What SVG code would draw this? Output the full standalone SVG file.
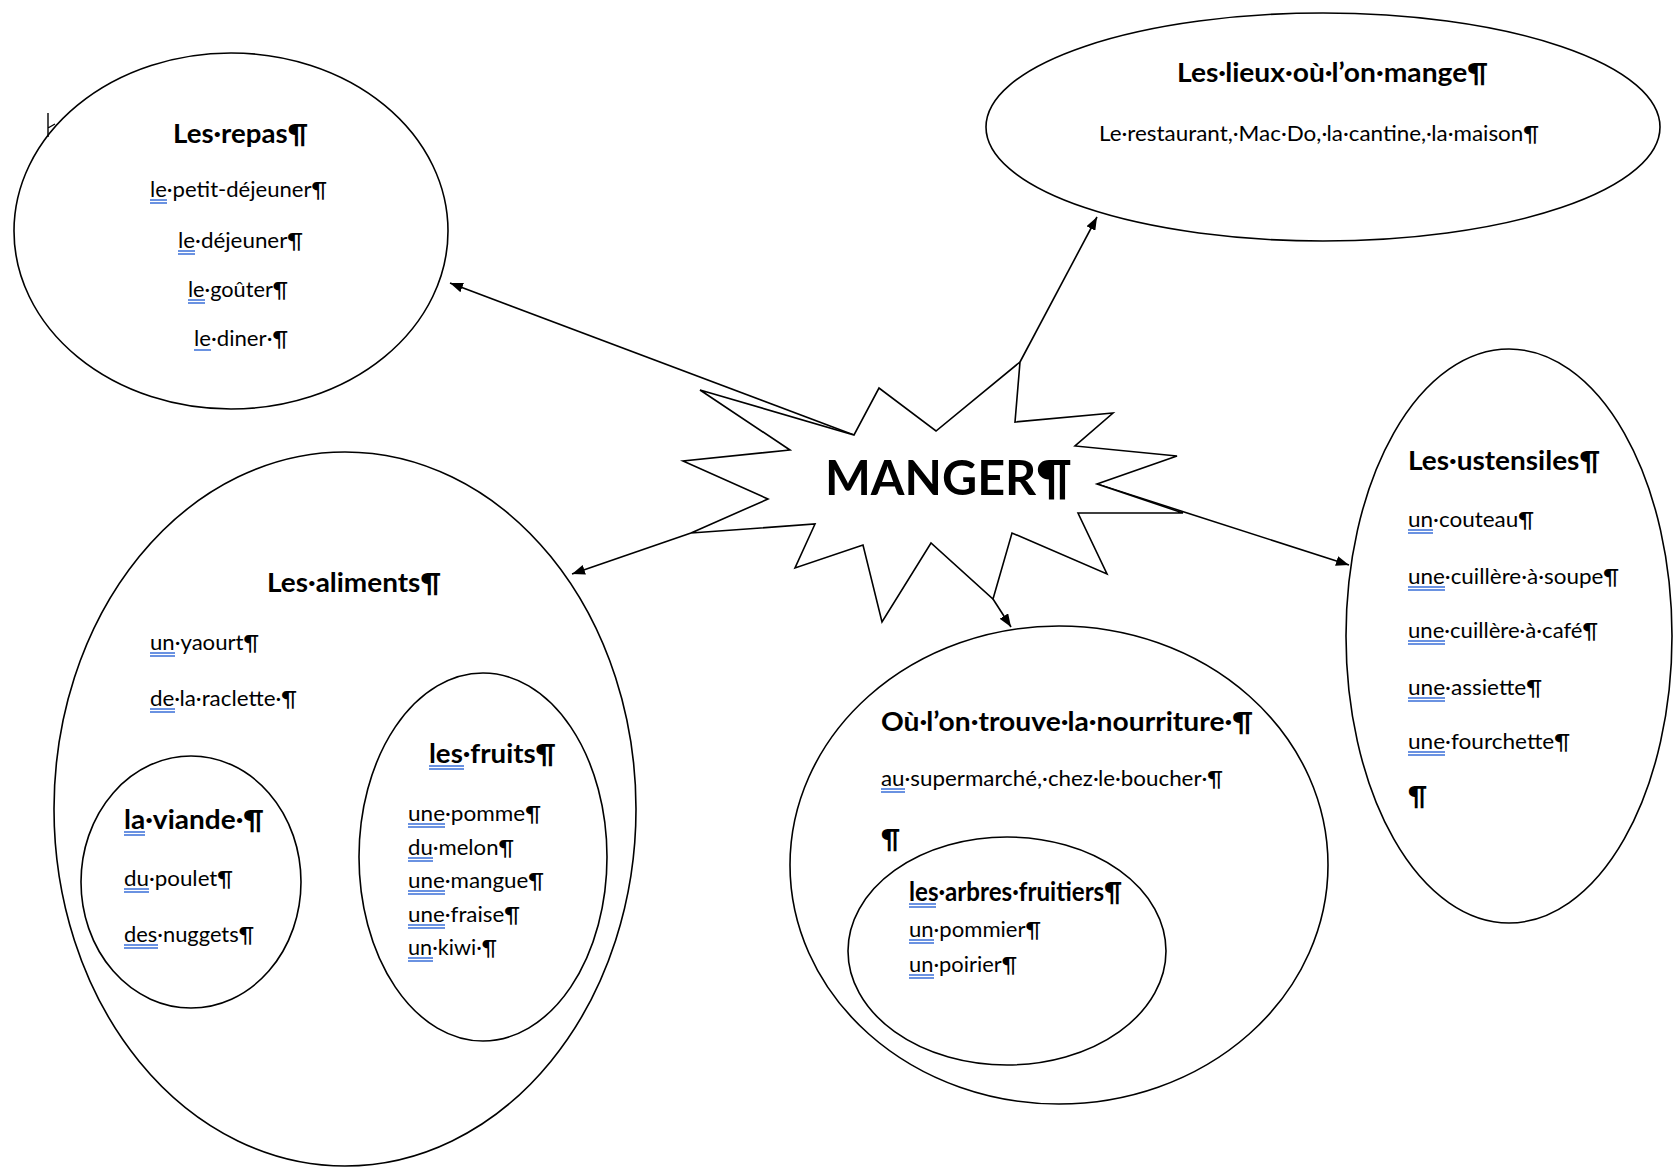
<svg xmlns="http://www.w3.org/2000/svg" width="1673" height="1169" viewBox="0 0 1673 1169">
<style>
.shape{fill:none;stroke:#000;stroke-width:1.6}
.star{fill:#fff;stroke:#000;stroke-width:1.6;stroke-linejoin:miter}
.t{font-family:Lato,"Liberation Sans",sans-serif;font-size:21px;fill:#000}
.h{font-weight:bold;font-size:26px}
.big{font-weight:bold;font-size:48px}
.ul{stroke:#3a6fd8;stroke-width:1.4}
.conn{stroke:#000;stroke-width:1.6;fill:none;marker-end:url(#arr)}
</style>
<defs>
<marker id="arr" markerUnits="userSpaceOnUse" markerWidth="13" markerHeight="10" refX="13" refY="5" orient="auto">
<path d="M0,0 L13,5 L0,10 z" fill="#000"/>
</marker>
</defs>
<rect width="1673" height="1169" fill="#fff"/>

<g id="connectors">
<line class="conn" x1="854" y1="435" x2="450" y2="283"/>
<line class="conn" x1="1020" y1="362" x2="1097" y2="217"/>
<line class="conn" x1="691" y1="533" x2="572" y2="574"/>
<line class="conn" x1="1097" y1="484" x2="1349" y2="565"/>
<line class="conn" x1="993" y1="599" x2="1011" y2="627"/>
</g>

<g id="manger">
<polygon class="star" points="1183,513 1097,484 1177,456 1075,446 1113,413 1015,422 1020,362 936,431 879,388 854,435 700,390 790,450 683,461 768,499 691,533 815,524 795,568 863,545 882,622 931,543 993,599 1012,533 1107,574 1078,513"/>
<text class="t big" x="825" y="495" textLength="247" lengthAdjust="spacingAndGlyphs">MANGER¶</text>
</g>

<g id="repas">
<ellipse class="shape" cx="231" cy="231" rx="217" ry="178"/>
<path d="M48,113 L48,137 M48,128 L55,124" stroke="#000" stroke-width="1.4" fill="none"/>
<text class="t h" x="173" y="143" textLength="135" lengthAdjust="spacingAndGlyphs">Les·repas¶</text>
<text class="t" x="150" y="197" textLength="177" lengthAdjust="spacingAndGlyphs">le·petit-déjeuner¶</text>
<text class="t" x="178" y="248" textLength="125" lengthAdjust="spacingAndGlyphs">le·déjeuner¶</text>
<text class="t" x="188" y="297" textLength="100" lengthAdjust="spacingAndGlyphs">le·goûter¶</text>
<text class="t" x="194" y="346" textLength="94" lengthAdjust="spacingAndGlyphs">le·diner·¶</text>
<path class="ul" d="M150,200h17M150,203h17M178,251h17M178,254h17M188,300h17M188,303h17M194,350h17"/>
</g>

<g id="lieux">
<ellipse class="shape" cx="1323" cy="127" rx="337" ry="114"/>
<text class="t h" x="1177" y="82" textLength="311" lengthAdjust="spacingAndGlyphs">Les·lieux·où·l’on·mange¶</text>
<text class="t" x="1099" y="141" textLength="440" lengthAdjust="spacingAndGlyphs">Le·restaurant,·Mac·Do,·la·cantine,·la·maison¶</text>
</g>

<g id="aliments">
<ellipse class="shape" cx="345" cy="809" rx="291" ry="357"/>
<text class="t h" x="267" y="592" textLength="174" lengthAdjust="spacingAndGlyphs">Les·aliments¶</text>
<text class="t" x="150" y="650" textLength="109" lengthAdjust="spacingAndGlyphs">un·yaourt¶</text>
<text class="t" x="150" y="706" textLength="147" lengthAdjust="spacingAndGlyphs">de·la·raclette·¶</text>
<path class="ul" d="M150,653h25M150,656h25M150,709h25M150,712h25"/>
</g>

<g id="viande">
<ellipse class="shape" cx="191" cy="882" rx="110" ry="126"/>
<text class="t h" x="124" y="829" textLength="140" lengthAdjust="spacingAndGlyphs">la·viande·¶</text>
<text class="t" x="124" y="886" textLength="109" lengthAdjust="spacingAndGlyphs">du·poulet¶</text>
<text class="t" x="124" y="942" textLength="130" lengthAdjust="spacingAndGlyphs">des·nuggets¶</text>
<path class="ul" d="M124,832h21M124,835h21M124,889h25M124,892h25M124,945h34M124,948h34"/>
</g>

<g id="fruits">
<ellipse class="shape" cx="483" cy="857" rx="124" ry="184"/>
<text class="t h" x="429" y="763" textLength="127" lengthAdjust="spacingAndGlyphs">les·fruits¶</text>
<text class="t" x="408" y="821" textLength="133" lengthAdjust="spacingAndGlyphs">une·pomme¶</text>
<text class="t" x="408" y="855" textLength="106" lengthAdjust="spacingAndGlyphs">du·melon¶</text>
<text class="t" x="408" y="888" textLength="136" lengthAdjust="spacingAndGlyphs">une·mangue¶</text>
<text class="t" x="408" y="922" textLength="112" lengthAdjust="spacingAndGlyphs">une·fraise¶</text>
<text class="t" x="408" y="955" textLength="89" lengthAdjust="spacingAndGlyphs">un·kiwi·¶</text>
<path class="ul" d="M429,766h35M429,769h35M408,824h37M408,827h37M408,858h25M408,861h25M408,891h37M408,894h37M408,925h37M408,928h37M408,958h25M408,961h25"/>
</g>

<g id="nourriture">
<ellipse class="shape" cx="1059" cy="865" rx="269" ry="239"/>
<text class="t h" x="881" y="731" textLength="372" lengthAdjust="spacingAndGlyphs">Où·l’on·trouve·la·nourriture·¶</text>
<text class="t" x="881" y="786" textLength="342" lengthAdjust="spacingAndGlyphs">au·supermarché,·chez·le·boucher·¶</text>
<text class="t h" x="881" y="848">¶</text>
<path class="ul" d="M881,789h24M881,792h24"/>
</g>

<g id="arbres">
<ellipse class="shape" cx="1007" cy="951" rx="159" ry="114"/>
<text class="t h" x="909" y="901" textLength="213" lengthAdjust="spacingAndGlyphs">les·arbres·fruitiers¶</text>
<text class="t" x="909" y="937" textLength="132" lengthAdjust="spacingAndGlyphs">un·pommier¶</text>
<text class="t" x="909" y="972" textLength="108" lengthAdjust="spacingAndGlyphs">un·poirier¶</text>
<path class="ul" d="M909,904h27M909,907h27M909,940h25M909,943h25M909,975h25M909,978h25"/>
</g>

<g id="ustensiles">
<ellipse class="shape" cx="1509" cy="636" rx="163" ry="287"/>
<text class="t h" x="1408" y="470" textLength="192" lengthAdjust="spacingAndGlyphs">Les·ustensiles¶</text>
<text class="t" x="1408" y="527" textLength="126" lengthAdjust="spacingAndGlyphs">un·couteau¶</text>
<text class="t" x="1408" y="584" textLength="211" lengthAdjust="spacingAndGlyphs">une·cuillère·à·soupe¶</text>
<text class="t" x="1408" y="638" textLength="190" lengthAdjust="spacingAndGlyphs">une·cuillère·à·café¶</text>
<text class="t" x="1408" y="695" textLength="134" lengthAdjust="spacingAndGlyphs">une·assiette¶</text>
<text class="t" x="1408" y="749" textLength="162" lengthAdjust="spacingAndGlyphs">une·fourchette¶</text>
<text class="t h" x="1408" y="805">¶</text>
<path class="ul" d="M1408,530h25M1408,533h25M1408,587h37M1408,590h37M1408,641h37M1408,644h37M1408,698h37M1408,701h37M1408,752h37M1408,755h37"/>
</g>
</svg>
